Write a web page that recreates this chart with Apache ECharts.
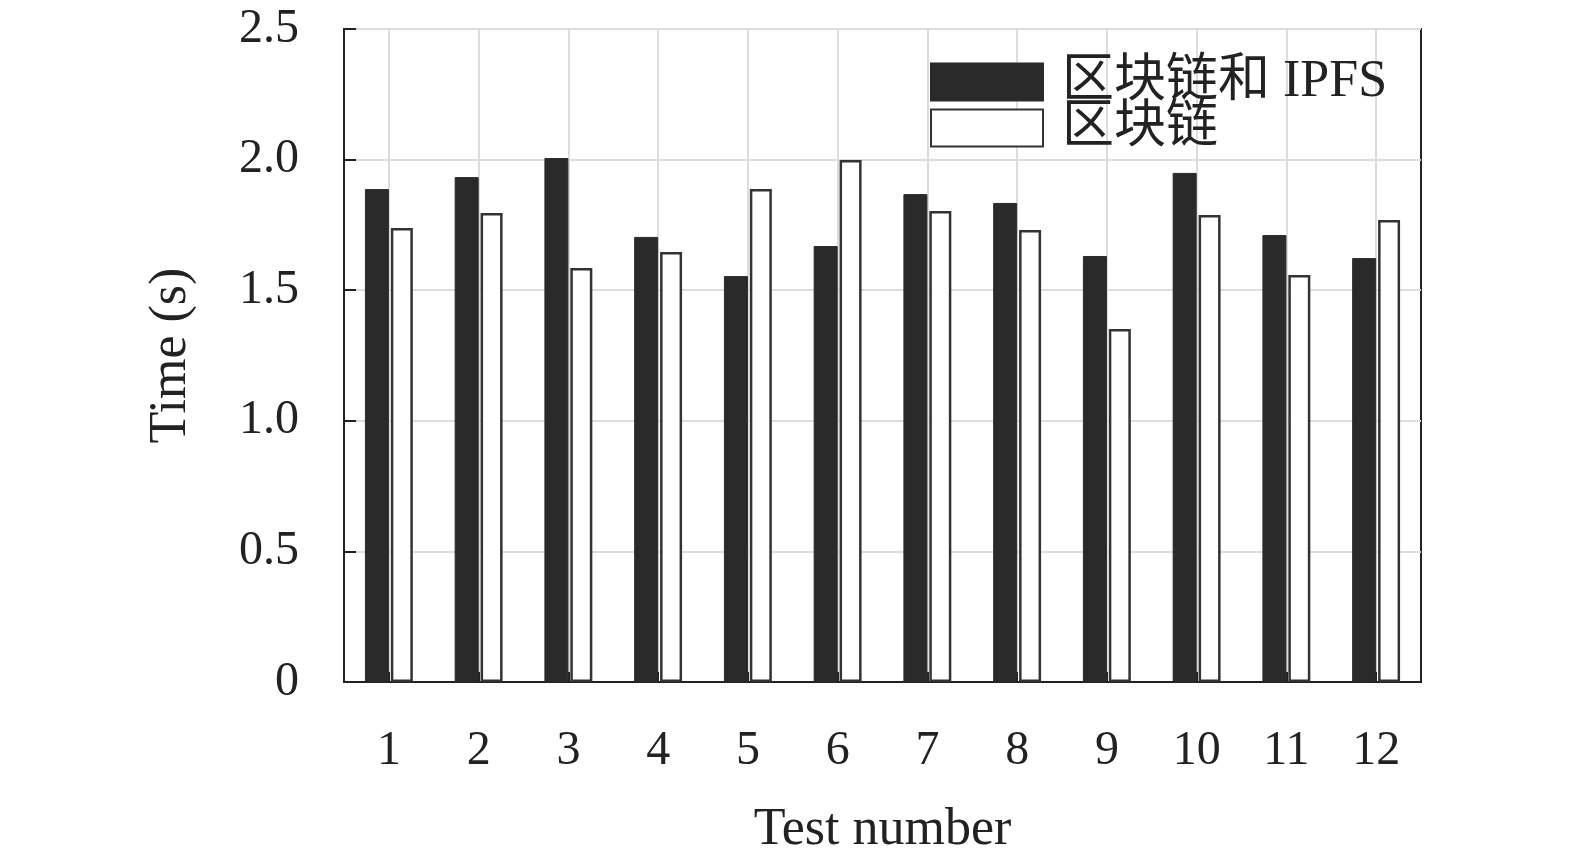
<!DOCTYPE html>
<html><head><meta charset="utf-8">
<script src="https://cdn.jsdelivr.net/npm/echarts@6/dist/echarts.min.js"></script>
<style>html,body{margin:0;padding:0;background:#fff}#c{width:1575px;height:866px}</style>
</head><body><div id="c"></div>
<script>
var categories = ['1','2','3','4','5','6','7','8','9','10','11','12'];
var seriesNames = ['区块链和 IPFS','区块链'];
var ipfsValues = [1.887,1.933,2.006,1.704,1.554,1.669,1.868,1.834,1.631,1.949,1.711,1.623];
var chainValues = [1.738,1.796,1.585,1.646,1.887,1.998,1.803,1.730,1.351,1.788,1.558,1.769];
var yTicks = [0,0.5,1.0,1.5,2.0,2.5];

var serif = '"Liberation Serif","DejaVu Serif","Noto Sans CJK SC",serif';
var chart = echarts.init(document.getElementById('c'));
chart.setOption({
  animation:false,
  grid:{left:344,right:154,top:29,bottom:184,outerBoundsMode:'none',containLabel:false,show:true,borderColor:'#222',borderWidth:2,backgroundColor:'transparent'},
  legend:{
    orient:'vertical', left:930, top:56, padding:0, itemWidth:112, itemHeight:37, itemGap:-6,
    textStyle:{fontFamily:serif,fontSize:52,color:'#222',padding:[0,0,0,14]},
    data:[{name:seriesNames[0],icon:'rect'},{name:seriesNames[1],icon:'rect'}]
  },
  xAxis:[{
    type:'category', data:categories, name:'Test number', nameLocation:'middle', nameGap:122,
    nameTextStyle:{fontFamily:serif,fontSize:52,color:'#222'},
    axisLine:{lineStyle:{color:'#222',width:2}},
    axisTick:{show:true,inside:true,alignWithLabel:true,length:10,lineStyle:{color:'#222',width:2}},
    axisLabel:{fontFamily:serif,fontSize:48,color:'#222',margin:45},
    splitLine:{show:false}
  },{
    type:'value', min:0, max:12, interval:1, position:'top',
    axisLine:{show:false}, axisTick:{show:false}, axisLabel:{show:false},
    splitLine:{show:false},
    minorTick:{show:false,splitNumber:2},
    minorSplitLine:{show:true,lineStyle:{color:'#ddd',width:2}}
  }],
  yAxis:{
    type:'value', min:0, max:2.5, interval:0.5, name:'Time (s)', nameLocation:'middle', nameGap:147,
    nameTextStyle:{fontFamily:serif,fontSize:52,color:'#222'},
    axisLine:{show:true,lineStyle:{color:'#222',width:2}},
    axisTick:{show:true,inside:true,length:12,lineStyle:{color:'#222',width:2}},
    axisLabel:{fontFamily:serif,fontSize:48,color:'#222',margin:45,
      formatter:function(v){return v===0?'0':v.toFixed(1);}},
    splitLine:{show:true,lineStyle:{color:'#ddd',width:2}}
  },
  series:[
    {name:seriesNames[0],type:'bar',xAxisIndex:0,data:ipfsValues,barWidth:24,barGap:'8%',
     itemStyle:{color:'#2b2a2a',borderColor:'#2b2a2a',borderWidth:1}},
    {name:seriesNames[1],type:'bar',xAxisIndex:0,data:chainValues,barWidth:22,
     itemStyle:{color:'#fff',borderColor:'#333',borderWidth:2.5}}
  ]
});
</script></body></html>
